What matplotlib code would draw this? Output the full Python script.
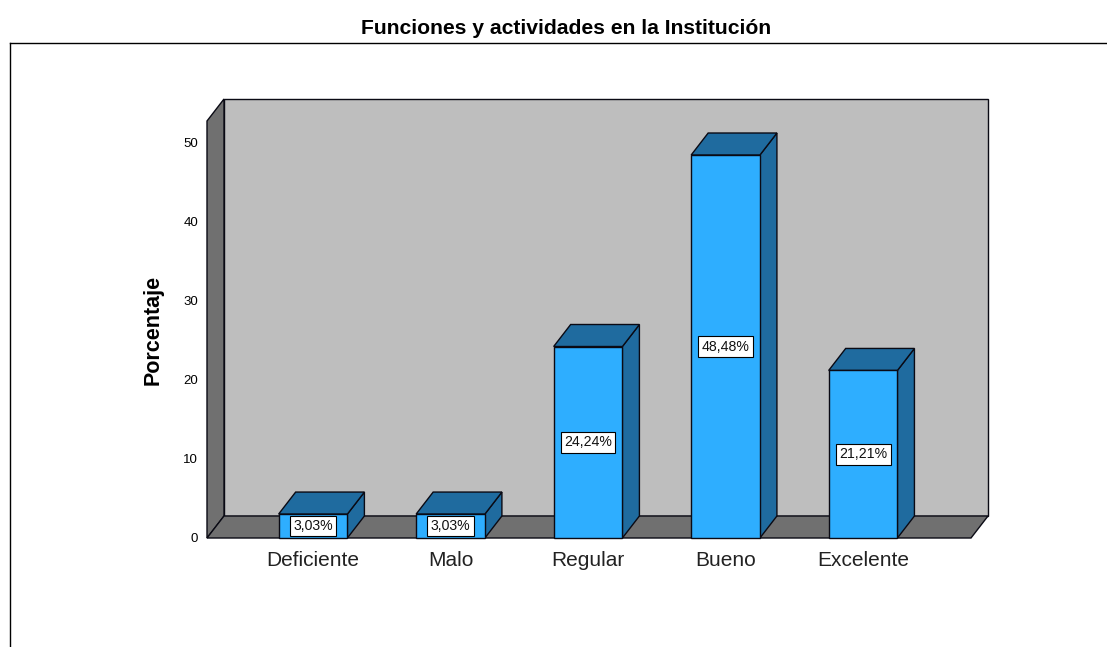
import matplotlib
matplotlib.use('Agg')
import matplotlib.pyplot as plt
from matplotlib.patches import Polygon
from matplotlib.lines import Line2D

categories = ['Deficiente', 'Malo', 'Regular', 'Bueno', 'Excelente']
values = [3.03, 3.03, 24.24, 48.48, 21.21]
labels = ['3,03%', '3,03%', '24,24%', '48,48%', '21,21%']
yticks = [0, 10, 20, 30, 40, 50]

W, H = 1107, 647
plt.rcParams['font.family'] = ['Liberation Sans', 'DejaVu Sans']

fig = plt.figure(figsize=(W / 100, H / 100), dpi=100)
# axes = front face of the fake 3D box, in pixels
left, right, top, bottom = 207, 971, 121, 538
ax = fig.add_axes([left / W, 1 - bottom / H, (right - left) / W, (bottom - top) / H])
x0, x1 = -0.771, 4.785
y1 = (bottom - top) / 7.9
ax.set_xlim(x0, x1)
ax.set_ylim(0, y1)
ax.axis('off')

dx = 17 / 137.5
dy = 22 / 7.9
bar_w = 0.5
edge = '#0a0a14'


def poly(pts, color, z):
    ax.add_patch(Polygon(pts, closed=True, facecolor=color, edgecolor=edge,
                         linewidth=1.0, zorder=z, clip_on=False))


# walls
poly([(x0 + dx, dy), (x1 + dx, dy), (x1 + dx, y1 + dy), (x0 + dx, y1 + dy)], '#bebebe', 1)
poly([(x0, 0), (x0 + dx, dy), (x0 + dx, y1 + dy), (x0, y1)], '#707070', 1)
poly([(x0, 0), (x1, 0), (x1 + dx, dy), (x0 + dx, dy)], '#707070', 1)

# bars
for i, v in enumerate(values):
    a, b = i - bar_w / 2, i + bar_w / 2
    poly([(b, 0), (b + dx, dy), (b + dx, v + dy), (b, v)], '#1f6b9f', 3)
    poly([(a, v), (b, v), (b + dx, v + dy), (a + dx, v + dy)], '#1f6b9f', 3)
    poly([(a, 0), (b, 0), (b, v), (a, v)], '#2eaeff', 4)
    ax.text(i, v / 2, labels[i], ha='center', va='center', fontsize=10.2, color='#111111', zorder=6,
            bbox=dict(boxstyle='square,pad=0.24', facecolor='white', edgecolor='black', linewidth=0.8))
    ax.text(i, -2.8, categories[i], ha='center', va='center', fontsize=15, color='#222222', clip_on=False)

for t in yticks:
    ax.text(x0 - 0.065, t - 0.12, str(t), ha='right', va='center', fontsize=9.5, color='black', clip_on=False)

fig.text(153 / W, 1 - 330 / H, 'Porcentaje', rotation=90, ha='center', va='center',
         fontsize=15.5, fontweight='bold')
fig.text(566 / W, 1 - 28 / H, 'Funciones y actividades en la Institución', ha='center', va='center',
         fontsize=15.2, fontweight='bold')

# outer frame
fig.add_artist(Line2D([10 / W, 10 / W], [0, 1 - 43 / H], color='black', linewidth=1))
fig.add_artist(Line2D([10 / W, 1], [1 - 43 / H, 1 - 43 / H], color='black', linewidth=1))

fig.savefig('out.png', dpi=100)
